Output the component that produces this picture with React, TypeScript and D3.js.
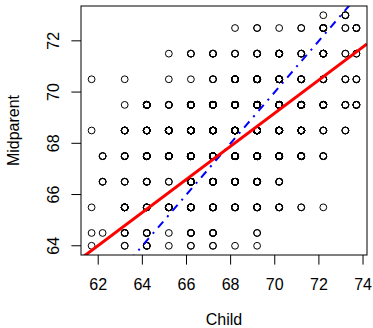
import React from "react";
import * as d3 from "d3";

// Galton: heights (inches) of children vs mid-parent, counts per cell
const childHeights = [61.7, 62.2, 63.2, 64.2, 65.2, 66.2, 67.2, 68.2, 69.2, 70.2, 71.2, 72.2, 73.2, 73.7];
const parentHeights = [64, 64.5, 65.5, 66.5, 67.5, 68.5, 69.5, 70.5, 71.5, 72.5, 73];
const counts = [
  [1, 0, 2, 4, 1, 2, 2, 1, 1, 0, 0, 0, 0, 0],
  [1, 1, 4, 4, 1, 5, 5, 0, 2, 0, 0, 0, 0, 0],
  [1, 0, 9, 5, 7, 11, 11, 7, 7, 5, 2, 1, 0, 0],
  [0, 3, 3, 5, 2, 17, 17, 14, 13, 4, 0, 0, 0, 0],
  [0, 3, 5, 14, 15, 36, 38, 28, 38, 19, 11, 4, 0, 0],
  [1, 0, 7, 11, 16, 25, 31, 34, 48, 21, 18, 4, 3, 0],
  [0, 0, 1, 16, 4, 17, 27, 20, 33, 25, 20, 11, 4, 5],
  [1, 0, 1, 0, 1, 1, 3, 12, 18, 14, 7, 4, 3, 3],
  [0, 0, 0, 0, 1, 3, 4, 3, 5, 10, 4, 9, 2, 2],
  [0, 0, 0, 0, 0, 0, 0, 1, 2, 1, 2, 7, 2, 4],
  [0, 0, 0, 0, 0, 0, 0, 0, 0, 0, 0, 1, 3, 0],
];
const xTicks = [62, 64, 66, 68, 70, 72, 74];
const yTicks = [64, 66, 68, 70, 72];

// red: lm coefficients, blue: identity line
const fitLine = { intercept: 23.94, slope: 0.6463 };
const identityLine = { intercept: 0, slope: 1 };

export default function App() {
  const width = 373;
  const height = 328;
  const margin = { top: 6, right: 6, bottom: 73, left: 81 };
  const font = "'Liberation Sans', Arial, sans-serif";

  const pad = (lo: number, hi: number) => [lo - (hi - lo) * 0.04, hi + (hi - lo) * 0.04];
  const xDom = pad(d3.min(childHeights)!, d3.max(childHeights)!);
  const yDom = pad(d3.min(parentHeights)!, d3.max(parentHeights)!);

  const x = d3.scaleLinear().domain(xDom).range([margin.left, width - margin.right]);
  const y = d3.scaleLinear().domain(yDom).range([height - margin.bottom, margin.top]);

  const points: { cx: number; cy: number }[] = [];
  parentHeights.forEach((p, i) => {
    childHeights.forEach((c, j) => {
      for (let k = 0; k < counts[i][j]; k++) points.push({ cx: x(c), cy: y(p) });
    });
  });

  const linePath = (l: { intercept: number; slope: number }) =>
    d3.line<number>()
      .x((v) => x(v))
      .y((v) => y(l.intercept + l.slope * v))(xDom)!;

  const x0 = margin.left;
  const x1 = width - margin.right;
  const yb = height - margin.bottom;

  return (
    <div style={{ position: "fixed", left: 0, top: 0 }}>
      <svg width={width} height={height} style={{ display: "block", background: "white" }}>
        <defs>
          <clipPath id="plot">
            <rect x={x0} y={margin.top} width={x1 - x0} height={yb - margin.top} />
          </clipPath>
        </defs>

        {/* points */}
        <g fill="none" stroke="black" strokeWidth={1}>
          {points.map((d, i) => (
            <circle key={i} cx={d.cx} cy={d.cy} r={3.4} />
          ))}
        </g>

        {/* lines */}
        <g clipPath="url(#plot)" fill="none">
          <path d={linePath(identityLine)} stroke="blue" strokeWidth={2} strokeDasharray="2,6,8,6" />
          <path d={linePath(fitLine)} stroke="red" strokeWidth={3} />
        </g>

        {/* box */}
        <rect x={x0} y={margin.top} width={x1 - x0} height={yb - margin.top} fill="none" stroke="black" strokeWidth={1} />

        {/* x axis */}
        <g fontFamily={font} fontSize={16}>
          {xTicks.map((t) => (
            <g key={t}>
              <line x1={x(t)} x2={x(t)} y1={yb} y2={yb + 9.6} stroke="black" />
              <text x={x(t)} y={290} textAnchor="middle">{t}</text>
            </g>
          ))}
          <text x={(x0 + x1) / 2} y={325} textAnchor="middle">Child</text>
        </g>

        {/* y axis */}
        <g fontFamily={font} fontSize={16}>
          {yTicks.map((t) => (
            <g key={t}>
              <line x1={x0} x2={x0 - 9.6} y1={y(t)} y2={y(t)} stroke="black" />
              <text transform={`translate(58.5,${y(t)}) rotate(-90)`} textAnchor="middle">{t}</text>
            </g>
          ))}
          <text transform={`translate(18.7,${(margin.top + yb) / 2}) rotate(-90)`} textAnchor="middle">Midparent</text>
        </g>
      </svg>
    </div>
  );
}
